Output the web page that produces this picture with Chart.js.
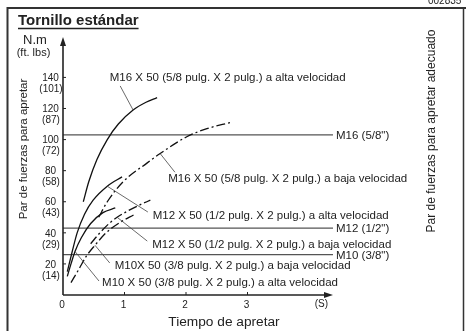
<!DOCTYPE html>
<html><head><meta charset="utf-8">
<script src="https://cdn.jsdelivr.net/npm/chart.js@4.4.1/dist/chart.umd.min.js"></script>
<style>html,body{margin:0;padding:0;background:#fff}canvas{display:block}</style>
</head><body>
<canvas id="c" width="466" height="331"></canvas>
<script>
// ---- data ----
const yTickValues = [20, 40, 60, 80, 100, 120, 140];
const yTickFtLbs  = ['(14)', '(29)', '(43)', '(58)', '(72)', '(87)', '(101)'];
const xTickValues = [0, 1, 2, 3];
const xUnitLabel  = '(S)';

const m16AltaT = [0.33, 0.42, 0.55, 0.72, 0.90, 1.14, 1.35, 1.53];
const m16AltaV = [60, 73, 87, 100, 110, 119, 124, 127];
const m16BajaT = [0.58, 0.72, 0.98, 1.37, 1.58, 2.02, 2.34, 2.72];
const m16BajaV = [50, 60, 73, 85, 91, 102, 107, 111];
const m12AltaT = [0.07, 0.15, 0.23, 0.35, 0.49, 0.72, 0.96];
const m12AltaV = [15, 28, 40, 52, 61, 70, 76];
const m12BajaT = [0.45, 0.60, 0.75, 0.88, 1.05, 1.25, 1.42];
const m12BajaV = [33, 40, 46, 50, 54, 58, 61];
const m10AltaT = [0.07, 0.13, 0.195, 0.30, 0.45, 0.65, 0.85];
const m10AltaV = [12, 20, 28, 37, 46, 53, 56];
const m10BajaT = [0.13, 0.25, 0.38, 0.52, 0.70, 0.90, 1.17];
const m10BajaV = [8, 16, 25, 32, 40, 46, 52];

const refNames  = ['M16 (5/8")', 'M12 (1/2")', 'M10 (3/8")'];
const refValues = [103, 43, 26];

const curveLabels = [
  'M16 X 50 (5/8 pulg. X 2 pulg.) a alta velocidad',
  'M16 X 50 (5/8 pulg. X 2 pulg.) a baja velocidad',
  'M12 X 50 (1/2 pulg. X 2 pulg.) a alta velocidad',
  'M12 X 50 (1/2 pulg. X 2 pulg.) a baja velocidad',
  'M10X 50 (3/8 pulg. X 2 pulg.) a baja velocidad',
  'M10 X 50 (3/8 pulg. X 2 pulg.) a alta velocidad'
];
// leader targets: [curve T array, V array, point index]
const leaderTargets = [
  [m16AltaT, m16AltaV, 5],
  [m16BajaT, m16BajaV, 4],
  [m12AltaT, m12AltaV, 5],
  [m12BajaT, m12BajaV, 3],
  [m10BajaT, m10BajaV, 3],
  [m10AltaT, m10AltaV, 2]
];

// ---- layout (positions in axis units) ----
const labelPos  = [[0.76,139.6],[1.71,74.6],[1.46,50.8],[1.45,32],[0.84,18.6],[0.635,7.7]];
const leaderStart = [[0.93,134.5],[1.82,79],[1.38,53.4],[1.37,34.7],[0.76,20.6],[0.585,9]];

const pts = (T, V) => T.map((t, i) => ({x: t, y: V[i]}));
const FONT = '"Liberation Sans", Arial, Helvetica, sans-serif';
const DASHDOT = [9, 3, 2, 3];
const XMAX = 4.39, YMAX = 166;

function curve(T, V, dashed) {
  return { data: pts(T, V), showLine: true, borderColor: '#111', borderWidth: 1.3,
    pointRadius: 0, cubicInterpolationMode: 'monotone', fill: false,
    borderDash: dashed ? DASHDOT : [] };
}
const datasets = [
  curve(m16AltaT, m16AltaV, false),
  curve(m16BajaT, m16BajaV, true),
  curve(m12AltaT, m12AltaV, false),
  curve(m12BajaT, m12BajaV, true),
  curve(m10AltaT, m10AltaV, false),
  curve(m10BajaT, m10BajaV, true)
];
refValues.forEach(v => datasets.push({
  data: [{x: 0, y: v}, {x: XMAX, y: v}], showLine: true, borderColor: '#555',
  borderWidth: 1.4, pointRadius: 0, fill: false }));

const decor = {
  id: 'decor',
  beforeDraw(chart) {
    const c = chart.ctx;
    c.save();
    c.fillStyle = '#fff'; c.fillRect(0, 0, chart.width, chart.height);
    c.strokeStyle = '#333'; c.lineWidth = 2;
    c.beginPath(); c.moveTo(466, 8); c.lineTo(7.5, 8); c.lineTo(7.5, 331); c.stroke();
    c.lineWidth = 1.5;
    c.beginPath(); c.moveTo(463.5, 8); c.lineTo(463.5, 331); c.stroke();
    c.fillStyle = '#222'; c.font = '10px ' + FONT; c.textBaseline = 'alphabetic'; c.textAlign = 'left';
    c.fillText('002835', 428, 4);
    c.restore();
  },
  afterDraw(chart) {
    const c = chart.ctx, xs = chart.scales.x, ys = chart.scales.y;
    const X = v => xs.getPixelForValue(v), Y = v => ys.getPixelForValue(v);
    const L = X(0), B = Y(0), R = X(XMAX), T = Y(YMAX);
    c.save();
    // axes
    c.strokeStyle = '#222'; c.fillStyle = '#222'; c.lineWidth = 1.6;
    c.beginPath(); c.moveTo(L, B); c.lineTo(L, T + 6); c.stroke();
    c.beginPath(); c.moveTo(L, B); c.lineTo(R - 6, B); c.stroke();
    c.beginPath(); c.moveTo(L, T); c.lineTo(L - 3, T + 9); c.lineTo(L + 3, T + 9); c.closePath(); c.fill();
    c.beginPath(); c.moveTo(R, B); c.lineTo(R - 9, B - 3); c.lineTo(R - 9, B + 3); c.closePath(); c.fill();
    c.lineWidth = 1;
    // y ticks
    c.font = '10px ' + FONT; c.textAlign = 'center'; c.textBaseline = 'middle';
    yTickValues.forEach((v, i) => {
      const y = Y(v);
      c.beginPath(); c.moveTo(L, y); c.lineTo(L + 3, y); c.stroke();
      c.fillText(String(v), 50.5, y + 1);
      c.fillText(yTickFtLbs[i], 51, y + 12);
    });
    // x ticks
    xTickValues.forEach(v => {
      const x = X(v);
      if (v > 0) { c.beginPath(); c.moveTo(x, B); c.lineTo(x, B - 3); c.stroke(); }
      c.fillText(String(v), x - 1, B + 10);
    });
    c.fillText(xUnitLabel, X(4.2), B + 9);
    // titles
    c.textAlign = 'left'; c.textBaseline = 'alphabetic';
    c.font = 'bold 15px ' + FONT; c.fillText('Tornillo estándar', 18, 25);
    const tw = c.measureText('Tornillo estándar').width;
    c.lineWidth = 1.5; c.beginPath(); c.moveTo(18, 28.5); c.lineTo(18 + tw, 28.5); c.stroke();
    c.textAlign = 'center'; c.textBaseline = 'middle';
    c.font = '13px ' + FONT; c.fillText('N.m', 35, 40);
    c.font = '11px ' + FONT; c.fillText('(ft. lbs)', 33.5, 53);
    c.font = '13.7px ' + FONT; c.fillText('Tiempo de apretar', 224, 322);
    c.font = '11.5px ' + FONT;
    c.save(); c.translate(24, 149); c.rotate(-Math.PI / 2); c.fillText('Par de fuerzas para apretar', 0, 0); c.restore();
    c.font = '12px ' + FONT;
    c.save(); c.translate(432, 131); c.rotate(-Math.PI / 2); c.fillText('Par de fuerzas para apretar adecuado', 0, 0); c.restore();
    // reference line labels
    c.textAlign = 'left'; c.font = '11.5px ' + FONT;
    refNames.forEach((n, i) => c.fillText(n, R + 3, Y(refValues[i]) + 1));
    // curve labels + leaders
    c.strokeStyle = '#444'; c.lineWidth = 0.8; c.font = '11.5px ' + FONT;
    curveLabels.forEach((txt, i) => {
      const [tx, ty] = labelPos[i];
      c.fillText(txt, X(tx), Y(ty));
      const [ts, vs, k] = leaderTargets[i];
      const [sx, sy] = leaderStart[i];
      c.beginPath(); c.moveTo(X(sx), Y(sy)); c.lineTo(X(ts[k]), Y(vs[k])); c.stroke();
    });
    c.restore();
  }
};

new Chart(document.getElementById('c'), {
  type: 'scatter',
  data: { datasets },
  options: {
    responsive: false, animation: false, devicePixelRatio: 1,
    layout: { padding: { left: 63, right: 466 - 63 - XMAX * 61.5, top: 37, bottom: 36 } },
    scales: {
      x: { type: 'linear', min: 0, max: XMAX, display: false },
      y: { type: 'linear', min: 0, max: YMAX, display: false }
    },
    plugins: { legend: { display: false }, tooltip: { enabled: false }, title: { display: false } }
  },
  plugins: [decor]
});
</script>
</body></html>
